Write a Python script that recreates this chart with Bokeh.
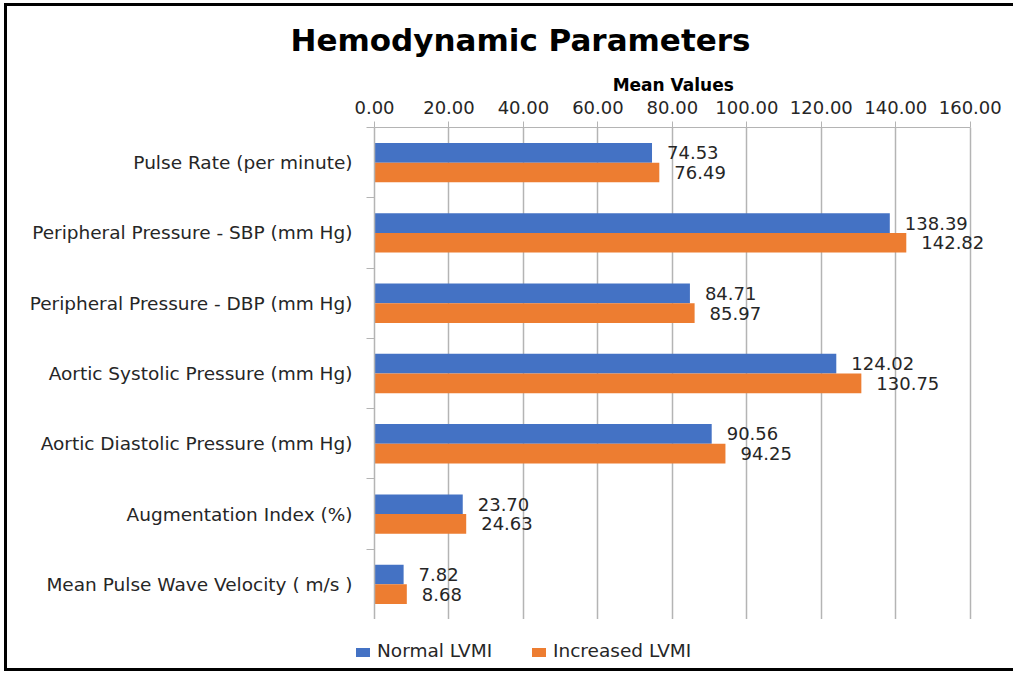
from bokeh.plotting import figure
from bokeh.layouts import column
from bokeh.models import (Range1d, FixedTicker, NumeralTickFormatter, ColumnDataSource,
                          LabelSet, Div)
from bokeh.core.properties import value
from bokeh.embed import file_html
from bokeh.resources import INLINE

categories = [
    "Pulse Rate (per minute)",
    "Peripheral Pressure - SBP (mm Hg)",
    "Peripheral Pressure - DBP (mm Hg)",
    "Aortic Systolic Pressure (mm Hg)",
    "Aortic Diastolic Pressure (mm Hg)",
    "Augmentation Index (%)",
    "Mean Pulse Wave Velocity ( m/s )",
]
normal_lvmi = [74.53, 138.39, 84.71, 124.02, 90.56, 23.70, 7.82]
increased_lvmi = [76.49, 142.82, 85.97, 130.75, 94.25, 24.63, 8.68]
series_names = ["Normal LVMI", "Increased LVMI"]
x_ticks = [0, 20, 40, 60, 80, 100, 120, 140, 160]
x_view_end = 170  # room on the right for the value labels

FONT = "DejaVu Sans"
TXT = "#262626"
BLUE = "#4472c4"
ORANGE = "#ed7d31"
GRID = "#b4b4b4"

n = len(categories)
rows = [i + 0.5 for i in range(n)]
bar_h = 0.28

src_n = ColumnDataSource(dict(y=[r - bar_h / 2 for r in rows], v=normal_lvmi,
                              t=["%.2f" % v for v in normal_lvmi]))
src_i = ColumnDataSource(dict(y=[r + bar_h / 2 for r in rows], v=increased_lvmi,
                              t=["%.2f" % v for v in increased_lvmi]))

p = figure(width=1006, height=613, output_backend="svg", toolbar_location=None,
           x_range=Range1d(x_ticks[0], x_view_end), y_range=Range1d(n, 0),
           x_axis_location="above", title="Hemodynamic Parameters",
           min_border_left=367, min_border_right=6, min_border_top=121,
           min_border_bottom=0)

p.title.text_font = FONT
p.title.text_font_size = "31px"
p.title.text_font_style = "bold"
p.title.text_color = "black"
p.title.align = "left"
p.title.offset = -84
p.title.standoff = 27

p.outline_line_color = None
p.ygrid.grid_line_color = None
p.xgrid.grid_line_color = GRID
p.xgrid.grid_line_width = 1.5
p.xgrid.ticker = FixedTicker(ticks=x_ticks)

xa = p.xaxis[0]
xa.ticker = FixedTicker(ticks=x_ticks)
xa.bounds = (x_ticks[0], x_ticks[-1])
xa.formatter = NumeralTickFormatter(format="0.00")
# trailing no-break spaces keep the label centred over the 0-160 scale
xa.axis_label = "Mean Values" + "\u00a0" * 6
xa.axis_label_text_font = FONT
xa.axis_label_text_font_size = "17px"
xa.axis_label_text_font_style = "bold"
xa.axis_label_text_color = "black"
xa.axis_label_standoff = 3
xa.major_label_text_font = FONT
xa.major_label_text_font_size = "18px"
xa.major_label_text_color = TXT
xa.major_label_standoff = 8
xa.axis_line_color = GRID
xa.major_tick_line_color = GRID
xa.major_tick_out = 6
xa.major_tick_in = 0
xa.minor_tick_line_color = None

ya = p.yaxis[0]
ya.ticker = FixedTicker(ticks=rows, minor_ticks=list(range(n + 1)))
ya.major_label_overrides = {r: c for r, c in zip(rows, categories)}
ya.major_label_text_font = FONT
ya.major_label_text_font_size = "18.5px"
ya.major_label_text_color = TXT
ya.major_label_standoff = 14
ya.major_tick_out = 0
ya.major_tick_in = 0
ya.major_tick_line_color = None
ya.minor_tick_out = 8
ya.minor_tick_in = 0
ya.minor_tick_line_color = GRID
ya.axis_line_color = GRID
ya.axis_line_width = 1.5

p.hbar(y="y", right="v", left=0, height=bar_h, source=src_n,
       fill_color=BLUE, line_color=None)
p.hbar(y="y", right="v", left=0, height=bar_h, source=src_i,
       fill_color=ORANGE, line_color=None)

for s in (src_n, src_i):
    p.add_layout(LabelSet(x="v", y="y", text="t", source=s, x_offset=15,
                          text_font=value(FONT), text_font_size="18px",
                          text_color=TXT, text_align="left",
                          text_baseline="middle"))

# legend strip under the chart (HTML text)
legend_colors = [BLUE, ORANGE]
legend_x = [349, 525]
items = []
for name, col, lx in zip(series_names, legend_colors, legend_x):
    items.append(
        f'<span style="position:absolute;left:{lx}px;top:29px;width:14px;height:9px;'
        f'background:{col};"></span>'
        f'<span style="position:absolute;left:{lx + 21}px;top:21px;line-height:22px;'
        f'white-space:nowrap;">{name}</span>')
legend_html = (
    '<div style="position:relative;width:1006px;height:49px;'
    "font-family:'DejaVu Sans';font-size:18.5px;color:#262626;\">"
    + "".join(items) + "</div>")
legend_div = Div(text=legend_html, width=1006, height=49,
                 styles={"margin": "0", "padding": "0"})

layout = column(p, legend_div, spacing=0)
layout.styles = {"border-top": "3px solid black", "border-left": "3px solid black",
                 "border-bottom": "3px solid black", "margin-left": "4px",
                 "margin-top": "3px"}

open("out.html", "w").write(file_html(layout, INLINE))
